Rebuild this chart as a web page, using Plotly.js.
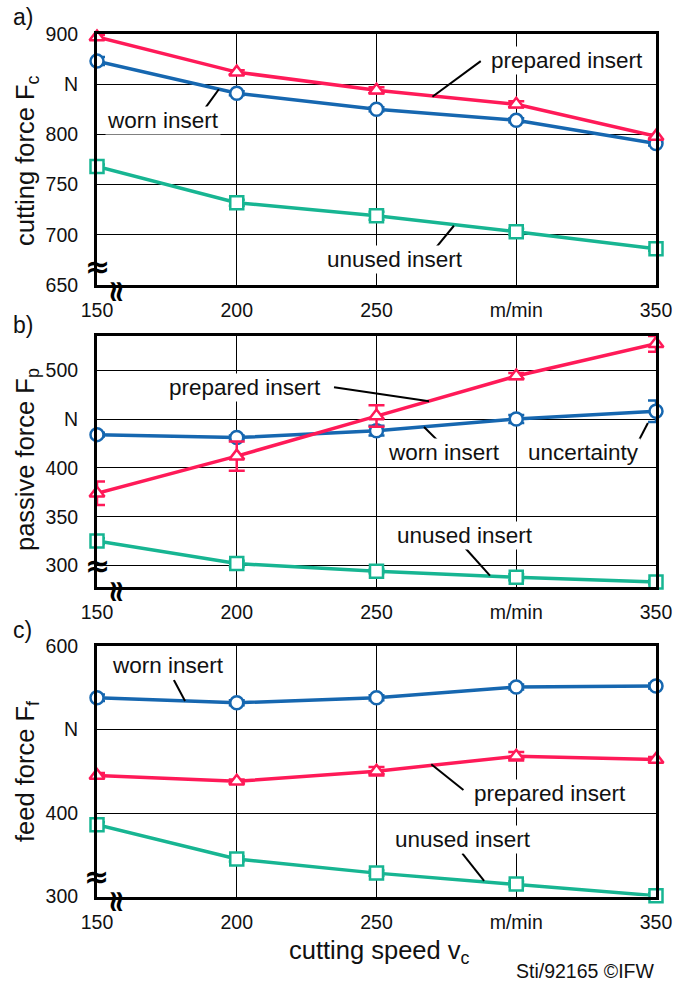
<!DOCTYPE html>
<html><head><meta charset="utf-8">
<script src="https://cdn.plot.ly/plotly-3.0.1.min.js"></script>
<style>html,body{margin:0;padding:0;background:#fff}#chart{width:688px;height:982px}</style>
</head><body><div id="chart"></div>
<script>
const speeds = [150, 200, 250, 300, 350];
const xTickText = ['150', '200', '250', 'm/min', '350'];

const FcPrepared = [897, 862, 844, 830, 798];
const FcPreparedErr = [2, 2, 3, 3, 2];
const FcWorn = [873, 841, 825, 814, 791];
const FcWornErr = [4, 2, 2, 2, 2];
const FcUnused = [768, 732, 719, 703, 686];
const FcUnusedErr = [2, 3, 4, 3, 2];

const FpPrepared = [374, 412, 453, 494, 527];
const FpPreparedErr = [12, 15, 11, 3, 8];
const FpWorn = [434, 431, 438, 450, 458];
const FpWornErr = [2, 2, 5, 4, 11];
const FpUnused = [325, 302, 294, 288, 283];
const FpUnusedErr = [3, 3, 2, 3, 2];

const FfWorn = [538, 532, 538, 551, 552];
const FfWornErr = [4, 3, 3, 3, 3];
const FfPrepared = [445, 438, 450, 468, 464];
const FfPreparedErr = [3, 2, 5, 5, 3];
const FfUnused = [386, 345, 328, 315, 301];
const FfUnusedErr = [3, 3, 3, 3, 3];

const yTicksA = [650, 700, 750, 800, 850, 900];
const yTextA = ['650', '700', '750', '800', 'N', '900'];
const yTicksB = [300, 350, 400, 450, 500];
const yTextB = ['300', '350', '400', 'N', '500'];
const yTicksC = [300, 400, 500, 600];
const yTextC = ['300', '400', 'N', '600'];

const RED = '#ff1a58', BLUE = '#1667b0', GREEN = '#17b592';

function series(y, err, color, symbol, xa, ya) {
  return {
    x: speeds, y: y, xaxis: xa, yaxis: ya, type: 'scatter', mode: 'lines+markers',
    cliponaxis: false,
    line: {color: color, width: 3.5},
    marker: {symbol: symbol, size: 13, color: '#fff', line: {color: color, width: 2.5}},
    error_y: {type: 'data', array: err, visible: true, color: color, thickness: 2.5, width: 8}
  };
}

const data = [
  series(FcUnused, FcUnusedErr, GREEN, 'square', 'x', 'y'),
  series(FcWorn, FcWornErr, BLUE, 'circle', 'x', 'y'),
  series(FcPrepared, FcPreparedErr, RED, 'triangle-up', 'x', 'y'),
  series(FpUnused, FpUnusedErr, GREEN, 'square', 'x2', 'y2'),
  series(FpWorn, FpWornErr, BLUE, 'circle', 'x2', 'y2'),
  series(FpPrepared, FpPreparedErr, RED, 'triangle-up', 'x2', 'y2'),
  series(FfUnused, FfUnusedErr, GREEN, 'square', 'x3', 'y3'),
  series(FfWorn, FfWornErr, BLUE, 'circle', 'x3', 'y3'),
  series(FfPrepared, FfPreparedErr, RED, 'triangle-up', 'x3', 'y3')
];

const FONT = 'Liberation Sans, Arial, sans-serif';
const xDom = [97 / 688, 656 / 688];
function xax(anchor) {
  return {
    domain: xDom, anchor: anchor, range: [150, 350], tickvals: speeds, ticktext: xTickText,
    showgrid: true, gridcolor: '#000', gridwidth: 1, zeroline: false,
    showline: true, mirror: true, linewidth: 3, linecolor: '#000', ticks: '',
    ticklabelstandoff: 6, tickfont: {family: FONT, size: 19.5, color: '#111'}
  };
}
function yax(anchor, dom, range, vals, text) {
  return {
    domain: dom, anchor: anchor, range: range, tickvals: vals, ticktext: text,
    showgrid: true, gridcolor: '#000', gridwidth: 1, zeroline: false,
    showline: true, mirror: true, linewidth: 3, linecolor: '#000', ticks: '',
    ticklabelstandoff: 12, tickfont: {family: FONT, size: 19.5, color: '#111'}
  };
}

function lbl(text, x, y, xr, yr) {
  return {text: text, x: x, y: y, xref: xr, yref: yr, showarrow: false, bgcolor: '#fff',
    xanchor: 'center', yanchor: 'middle',
    borderpad: 1, font: {family: FONT, size: 22.5, color: '#111'}};
}
function lead(x0, y0, x1, y1, xr, yr) {
  return {type: 'line', xref: xr, yref: yr, x0: x0, y0: y0, x1: x1, y1: y1,
    line: {color: '#000', width: 2}, layer: 'above'};
}
function paperText(text, px, py, size, angle) {
  return {text: text, x: px / 688, y: 1 - py / 982, xref: 'paper', yref: 'paper',
    xanchor: 'center', yanchor: 'middle',
    showarrow: false, textangle: angle || 0, font: {family: FONT, size: size, color: '#111'}};
}
function brk(px, py, angle) {
  return {text: '<b>≈</b>', x: px / 688, y: 1 - py / 982, xref: 'paper', yref: 'paper',
    xanchor: 'center', yanchor: 'middle',
    showarrow: false, textangle: angle, font: {family: 'DejaVu Sans', size: 30, color: '#000'}};
}

const annotations = [
  lbl('prepared insert', 318, 874, 'x', 'y'),
  lbl('worn insert', 173.6, 814, 'x', 'y'),
  lbl('unused insert', 256.6, 675, 'x', 'y'),
  lbl('prepared insert', 203, 481.8, 'x2', 'y2'),
  lbl('worn insert', 274.2, 416.2, 'x2', 'y2'),
  lbl('uncertainty', 323.9, 416.2, 'x2', 'y2'),
  lbl('unused insert', 281.7, 330.8, 'x2', 'y2'),
  lbl('worn insert', 175.3, 576.4, 'x3', 'y3'),
  lbl('prepared insert', 312, 422.8, 'x3', 'y3'),
  lbl('unused insert', 281.1, 367.7, 'x3', 'y3'),
  paperText('a)', 23, 17, 23),
  paperText('b)', 23, 325, 23),
  paperText('c)', 23, 630, 23),
  paperText('cutting force F<sub>c</sub>', 27, 161, 25.5, -90),
  paperText('passive force F<sub>p</sub>', 27, 460, 25.5, -90),
  paperText('feed force F<sub>f</sub>', 27, 772, 25.5, -90),
  paperText('cutting speed v<sub>c</sub>', 379, 952, 25.5, 0),
  paperText('Sti/92165 ©IFW', 585, 971, 19.5, 0),
  brk(97, 267, 0), brk(118, 291, 90),
  brk(97, 565, 0), brk(118, 591, 90),
  brk(96, 876, 0), brk(118, 901, 90)
];

const shapes = [
  lead(287.3, 873, 270, 837.5, 'x', 'y'),
  lead(188.9, 827, 193.6, 845, 'x', 'y'),
  lead(270.6, 685, 277.7, 709, 'x', 'y'),
  lead(234.8, 482.6, 268.8, 468.2, 'x2', 'y2'),
  lead(273, 424.8, 267, 441.8, 'x2', 'y2'),
  lead(343.9, 428.2, 347.1, 446, 'x2', 'y2'),
  lead(281.9, 317.4, 290.6, 289.7, 'x2', 'y2'),
  lead(177.5, 559.3, 181.5, 534.1, 'x3', 'y3'),
  lead(281.1, 427.5, 269.6, 458.3, 'x3', 'y3'),
  lead(280.7, 351.7, 288.5, 318.6, 'x3', 'y3')
];

const layout = {
  width: 688, height: 982, margin: {l: 0, r: 0, t: 0, b: 0},
  paper_bgcolor: '#fff', plot_bgcolor: '#fff', showlegend: false,
  font: {family: FONT, color: '#111'},
  xaxis: xax('y'), xaxis2: xax('y2'), xaxis3: xax('y3'),
  yaxis: yax('x', [1 - 285 / 982, 1 - 34 / 982], [650, 900], yTicksA, yTextA),
  yaxis2: yax('x2', [1 - 587 / 982, 1 - 336 / 982], [278, 535], yTicksB, yTextB),
  yaxis3: yax('x3', [1 - 896.5 / 982, 1 - 646 / 982], [300, 600], yTicksC, yTextC),
  annotations: annotations, shapes: shapes
};

Plotly.newPlot('chart', data, layout, {displayModeBar: false, staticPlot: true});
</script></body></html>
